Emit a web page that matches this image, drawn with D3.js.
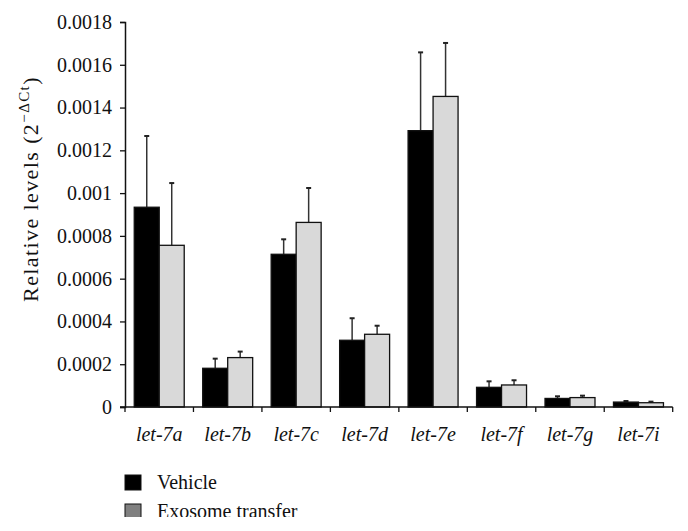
<!DOCTYPE html>
<html lang="en">
<head>
    <meta charset="UTF-8">
    <title>let-7 relative levels</title>
    <script src="https://d3js.org/d3.v7.min.js"></script>
    <style>
        body { margin: 0; background: #fff; }
        svg { display: block; overflow: hidden; }
        text { font-family: "Liberation Serif", "DejaVu Serif", serif; fill: #111; }
    </style>
</head>
<body>
    <script>
        var categories = ["let-7a", "let-7b", "let-7c", "let-7d", "let-7e", "let-7f", "let-7g", "let-7i"];
        var seriesNames = ["Vehicle", "Exosome transfer"];
        var vehicle = [0.000934, 0.000181, 0.000714, 0.000312, 0.001292, 0.000092, 0.000040, 0.000023];
        var vehicleErr = [0.000333, 0.000045, 0.000070, 0.000103, 0.000366, 0.000028, 0.000010, 0.000005];
        var exosome = [0.000756, 0.000231, 0.000863, 0.000340, 0.001452, 0.000103, 0.000044, 0.000020];
        var exosomeErr = [0.000291, 0.000028, 0.000161, 0.000040, 0.000250, 0.000022, 0.000009, 0.000005];
        var yTicks = [0, 0.0002, 0.0004, 0.0006, 0.0008, 0.001, 0.0012, 0.0014, 0.0016, 0.0018];
        var yTickLabels = ["0", "0.0002", "0.0004", "0.0006", "0.0008", "0.001", "0.0012", "0.0014", "0.0016", "0.0018"];

        var w = 688, h = 517;
        var plotLeft = 125, plotRight = 672.7, plotTop = 22, plotBottom = 407;

        var svg = d3.select("body").append("svg")
            .attr("width", w)
            .attr("height", h);

        var xScale = d3.scaleBand()
            .domain(categories)
            .range([plotLeft, plotRight]);

        // two bars side by side inside each category band
        var inner = d3.scaleBand()
            .domain([0, 1])
            .range([0, xScale.bandwidth()])
            .paddingInner(0)
            .paddingOuter(0.37);

        var yScale = d3.scaleLinear()
            .domain([0, 0.0018])
            .range([plotBottom, plotTop]);

        var fills = ["#000000", "#d9d9d9"];
        var series = [
            { values: vehicle, err: vehicleErr },
            { values: exosome, err: exosomeErr }
        ];

        series.forEach(function(s, k) {
            var g = svg.append("g");
            var data = categories.map(function(c, i) {
                return { c: c, v: s.values[i], e: s.err[i] };
            });

            function cx(d) { return xScale(d.c) + inner(k) + inner.bandwidth() / 2; }

            // upper error bar, behind the bar
            g.selectAll("line.err")
                .data(data)
                .enter()
                .append("line")
                .attr("x1", cx)
                .attr("x2", cx)
                .attr("y1", function(d) { return yScale(d.v); })
                .attr("y2", function(d) { return yScale(d.v + d.e); })
                .attr("stroke", "#333")
                .attr("stroke-width", 1.5);

            g.selectAll("line.cap")
                .data(data)
                .enter()
                .append("line")
                .attr("x1", function(d) { return cx(d) - 2.5; })
                .attr("x2", function(d) { return cx(d) + 2.5; })
                .attr("y1", function(d) { return yScale(d.v + d.e); })
                .attr("y2", function(d) { return yScale(d.v + d.e); })
                .attr("stroke", "#222")
                .attr("stroke-width", 2);

            g.selectAll("rect")
                .data(data)
                .enter()
                .append("rect")
                .attr("x", function(d) { return xScale(d.c) + inner(k); })
                .attr("y", function(d) { return yScale(d.v); })
                .attr("width", inner.bandwidth())
                .attr("height", function(d) { return plotBottom - yScale(d.v); })
                .attr("fill", fills[k])
                .attr("stroke", "#111")
                .attr("stroke-width", 1.3);
        });

        // y axis
        var yAxis = d3.axisLeft(yScale)
            .tickValues(yTicks)
            .tickFormat(function(d, i) { return yTickLabels[i]; })
            .tickSize(5)
            .tickPadding(8);

        var gy = svg.append("g")
            .attr("transform", "translate(" + plotLeft + ",0)")
            .call(yAxis);
        gy.select(".domain").attr("stroke", "#111").attr("stroke-width", 1.5);
        gy.selectAll(".tick line").attr("stroke", "#111").attr("stroke-width", 1.3);
        gy.selectAll(".tick text")
            .attr("font-family", "Liberation Serif, serif")
            .attr("font-size", "20px")
            .attr("fill", "#111");

        // x axis line with ticks at band boundaries
        svg.append("line")
            .attr("x1", plotLeft - 5)
            .attr("x2", plotRight)
            .attr("y1", plotBottom)
            .attr("y2", plotBottom)
            .attr("stroke", "#111")
            .attr("stroke-width", 1.5);

        var bounds = categories.map(function(c) { return xScale(c); }).concat([plotRight]);
        svg.selectAll("line.xtick")
            .data(bounds)
            .enter()
            .append("line")
            .attr("x1", function(d) { return d; })
            .attr("x2", function(d) { return d; })
            .attr("y1", plotBottom)
            .attr("y2", plotBottom + 5)
            .attr("stroke", "#111")
            .attr("stroke-width", 1.3);

        svg.selectAll("text.xlab")
            .data(categories)
            .enter()
            .append("text")
            .attr("x", function(d) { return xScale(d) + xScale.bandwidth() / 2; })
            .attr("y", 441)
            .attr("text-anchor", "middle")
            .attr("font-style", "italic")
            .attr("font-size", "20px")
            .text(function(d) { return d; });

        // y axis title
        var title = svg.append("text")
            .attr("transform", "translate(38,189) rotate(-90)")
            .attr("text-anchor", "middle")
            .attr("font-size", "22px")
            .attr("letter-spacing", "1.4px");
        title.append("tspan").text("Relative levels (2");
        title.append("tspan").attr("dy", -9).attr("font-size", "15px").text("\u2212\u0394Ct");
        title.append("tspan").attr("dy", 9).text(")");

        // legend
        var legendFills = ["#000000", "#808080"];
        var legend = svg.selectAll("g.legend")
            .data(seriesNames)
            .enter()
            .append("g")
            .attr("transform", function(d, i) { return "translate(125," + (475 + i * 29) + ")"; });

        legend.append("rect")
            .attr("width", 16)
            .attr("height", 15)
            .attr("fill", function(d, i) { return legendFills[i]; })
            .attr("stroke", "#111")
            .attr("stroke-width", 1);

        legend.append("text")
            .attr("x", 32)
            .attr("y", 14)
            .attr("font-size", "20px")
            .text(function(d) { return d; });
    </script>
</body>
</html>
